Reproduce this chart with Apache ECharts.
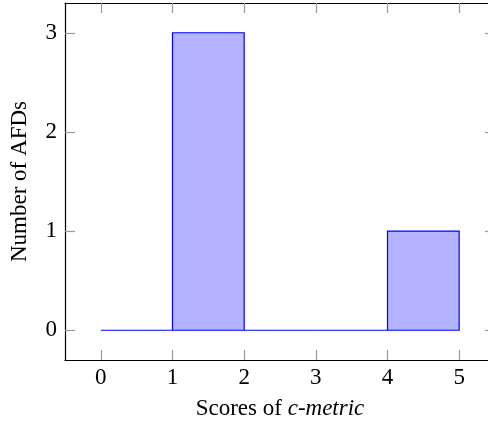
<!DOCTYPE html>
<html>
<head>
<meta charset="utf-8">
<script src="https://cdn.jsdelivr.net/npm/echarts@6/dist/echarts.min.js"></script>
<style>
  html, body { margin: 0; padding: 0; background: #fff; }
  #chart { width: 488px; height: 423px; }
</style>
</head>
<body>
<div id="chart"></div>
<script>
// Histogram bins: [start, end) edges and the count in each bin
const binStarts = [0, 1, 2, 3, 4];
const binEnds = [1, 2, 3, 4, 5];
const counts = [0, 3, 0, 0, 1];

// Tick positions / labels
const xTicks = [0, 1, 2, 3, 4, 5];
const yTicks = [0, 1, 2, 3];

const FONT = '"Liberation Serif", "DejaVu Serif", serif';
const FS = 23;
const TICK_COLOR = '#9a9a9a';

const data = binStarts.map((s, i) => [s, binEnds[i], counts[i]]);

function renderBin(params, api) {
  const x0 = api.value(0), x1 = api.value(1), c = api.value(2);
  const p0 = api.coord([x0, 0]);
  const p1 = api.coord([x1, c]);
  if (c === 0) {
    return {
      type: 'line',
      shape: { x1: p0[0], y1: p0[1], x2: p1[0], y2: p0[1] },
      style: { stroke: '#0000ff', lineWidth: 1.2 }
    };
  }
  return {
    type: 'rect',
    shape: { x: p0[0], y: p1[1], width: p1[0] - p0[0], height: p0[1] - p1[1] },
    style: { fill: '#b3b3ff', stroke: '#0000ff', lineWidth: 1.2 }
  };
}

const axisLine = { show: true, onZero: false, lineStyle: { color: '#000', width: 1.2 } };

const chart = echarts.init(document.getElementById('chart'), null, { renderer: 'canvas' });
chart.setOption({
  animation: false,
  backgroundColor: '#fff',
  grid: { left: 65, top: 3, width: 430, height: 357, containLabel: false, outerBoundsMode: 'none' },
  xAxis: [
    {
      type: 'value', min: -0.5, max: 5.5, position: 'bottom',
      axisLine: axisLine,
      splitLine: { show: false },
      axisTick: { show: true, inside: true, length: 10, customValues: xTicks,
                  lineStyle: { color: TICK_COLOR, width: 1.2 } },
      axisLabel: { show: true, customValues: xTicks, margin: 6,
                   fontFamily: FONT, fontSize: FS, color: '#000' },
      name: '{n|Scores of }{i|c-metric}',
      nameLocation: 'middle', nameGap: 37,
      nameTextStyle: {
        rich: {
          n: { fontFamily: FONT, fontSize: FS, color: '#000' },
          i: { fontFamily: FONT, fontSize: FS, fontStyle: 'italic', color: '#000' }
        }
      }
    },
    {
      type: 'value', min: -0.5, max: 5.5, position: 'top',
      axisLine: axisLine,
      splitLine: { show: false },
      axisTick: { show: true, inside: true, length: 10, customValues: xTicks,
                  lineStyle: { color: TICK_COLOR, width: 1.2 } },
      axisLabel: { show: false }
    }
  ],
  yAxis: [
    {
      type: 'value', min: -0.3, max: 3.3, position: 'left',
      axisLine: axisLine,
      splitLine: { show: false },
      axisTick: { show: true, inside: true, length: 10, customValues: yTicks,
                  lineStyle: { color: TICK_COLOR, width: 1.2 } },
      axisLabel: { show: true, customValues: yTicks, margin: 8,
                   fontFamily: FONT, fontSize: FS, color: '#000' },
      name: 'Number of AFDs',
      nameLocation: 'middle', nameGap: 34, nameRotate: 90,
      nameTextStyle: { fontFamily: FONT, fontSize: FS, color: '#000' }
    },
    {
      type: 'value', min: -0.3, max: 3.3, position: 'right',
      axisLine: axisLine,
      splitLine: { show: false },
      axisTick: { show: true, inside: true, length: 10, customValues: yTicks,
                  lineStyle: { color: TICK_COLOR, width: 1.2 } },
      axisLabel: { show: false }
    }
  ],
  series: [
    {
      type: 'custom',
      xAxisIndex: 0, yAxisIndex: 0,
      renderItem: renderBin,
      encode: { x: [0, 1], y: 2 },
      data: data,
      clip: false
    }
  ]
});
</script>
</body>
</html>
